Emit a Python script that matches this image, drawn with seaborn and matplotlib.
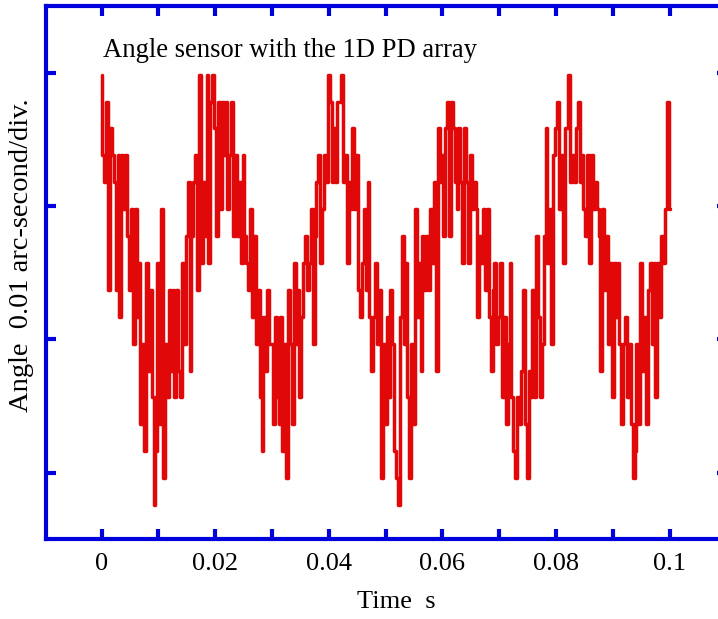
import numpy as np
import pandas as pd
import matplotlib
matplotlib.use("Agg")
import matplotlib.pyplot as plt
import seaborn as sns

# ---- data (quantized angle readings, 1 level = one quantization step) ----
t_start = 0.0
t_end = 0.1
n_samples = 301
levels = [
    16, 13, 12, 15, 8, 14,
    13, 12, 8, 13, 7, 13,
    11, 13, 10, 8, 11, 6,
    11, 7, 9, 3, 6, 2,
    9, 5, 8, 4, 0, 2,
    9, 3, 11, 1, 6, 4,
    8, 5, 8, 4, 8, 5,
    4, 9, 6, 10, 12, 5,
    10, 12, 13, 8, 16, 9,
    12, 10, 16, 9, 15, 16,
    14, 10, 15, 11, 15, 13,
    15, 11, 13, 15, 10, 13,
    10, 12, 9, 13, 10, 9,
    8, 11, 7, 10, 6, 8,
    4, 2, 7, 5, 8, 6,
    6, 3, 7, 4, 3, 7,
    2, 6, 1, 8, 6, 3,
    9, 6, 8, 4, 7, 9,
    10, 8, 9, 11, 6, 10,
    12, 13, 9, 11, 13, 12,
    16, 15, 12, 14, 12, 15,
    15, 16, 12, 13, 9, 12,
    11, 14, 11, 13, 8, 7,
    9, 11, 8, 12, 7, 5,
    7, 9, 6, 8, 1, 6,
    3, 7, 4, 8, 6, 2,
    1, 0, 7, 10, 6, 9,
    4, 1, 6, 3, 11, 7,
    9, 5, 10, 8, 10, 8,
    11, 9, 12, 5, 14, 12,
    13, 10, 14, 15, 10, 15,
    14, 12, 11, 14, 12, 9,
    14, 12, 9, 13, 11, 12,
    11, 7, 10, 9, 11, 8,
    11, 7, 5, 8, 9, 6,
    7, 9, 4, 7, 3, 6,
    9, 4, 2, 1, 4, 3,
    5, 8, 3, 1, 5, 4,
    8, 4, 10, 7, 4, 6,
    10, 14, 9, 11, 6, 13,
    14, 15, 11, 13, 9, 14,
    14, 16, 12, 13, 12, 14,
    15, 12, 13, 11, 10, 13,
    9, 13, 11, 12, 11, 10,
    5, 11, 8, 10, 6, 9,
    4, 9, 7, 9, 6, 3,
    6, 7, 4, 6, 3, 1,
    2, 6, 3, 9, 5, 7,
    3, 8, 9, 6, 9, 4,
    9, 7, 10, 9, 11, 15,
    11,
]
time = np.linspace(t_start, t_end, n_samples)
x_major = [0, 0.02, 0.04, 0.06, 0.08, 0.1]
x_major_labels = ["0", "0.02", "0.04", "0.06", "0.08", "0.1"]
x_minor = [0.01, 0.03, 0.05, 0.07, 0.09]
y_tick_levels = [1.2, 6.16, 11.12, 16.07]

df = pd.DataFrame({"time": time, "level": levels})

sns.set_style("ticks")
plt.rcParams["font.family"] = ["Liberation Serif", "DejaVu Serif"]
plt.rcParams["text.color"] = "black"
plt.rcParams["axes.labelcolor"] = "black"
plt.rcParams["xtick.labelcolor"] = "black"
plt.rcParams["ytick.labelcolor"] = "black"

W, H = 718, 619
fig = plt.figure(figsize=(W / 100, H / 100), dpi=100)
left_px, right_px, top_px, bot_px = 46, 727, 6, 539
ax = fig.add_axes([left_px / W, 1 - bot_px / H, (right_px - left_px) / W, (bot_px - top_px) / H])

red = "#E00808"
blue = "#0000DD"
sns.lineplot(data=df, x="time", y="level", ax=ax, color=red, linewidth=2.5,
             legend=False, estimator=None, sort=False, drawstyle="steps-mid")

ax.set_xlim(-0.00977, 0.1101)
ax.set_ylim(-1.26, 18.55)

for s in ax.spines.values():
    s.set_visible(True)
    s.set_color(blue)
    s.set_linewidth(3)

ax.set_xticks(x_major)
ax.set_xticklabels(x_major_labels)
ax.set_xticks(x_minor, minor=True)
ax.set_yticks(y_tick_levels)
ax.set_yticklabels([])
ax.tick_params(axis="both", which="both", direction="in", color=blue, width=3, length=7,
               top=True, right=True, labelsize=19, pad=10, labelcolor="black")

ax.set_xlabel("Time  s", fontsize=19, color="black")
ax.xaxis.set_label_coords(0.515, -0.098)
ax.set_ylabel("Angle  0.01 arc-second/div.", fontsize=20.5, color="black")
ax.yaxis.set_label_coords(-0.018, 0.533)

ax.text(0.084, 0.904, "Angle sensor with the 1D PD array", transform=ax.transAxes,
        fontsize=19.2, va="baseline", ha="left", color="black")

fig.savefig("out.png", dpi=100)
